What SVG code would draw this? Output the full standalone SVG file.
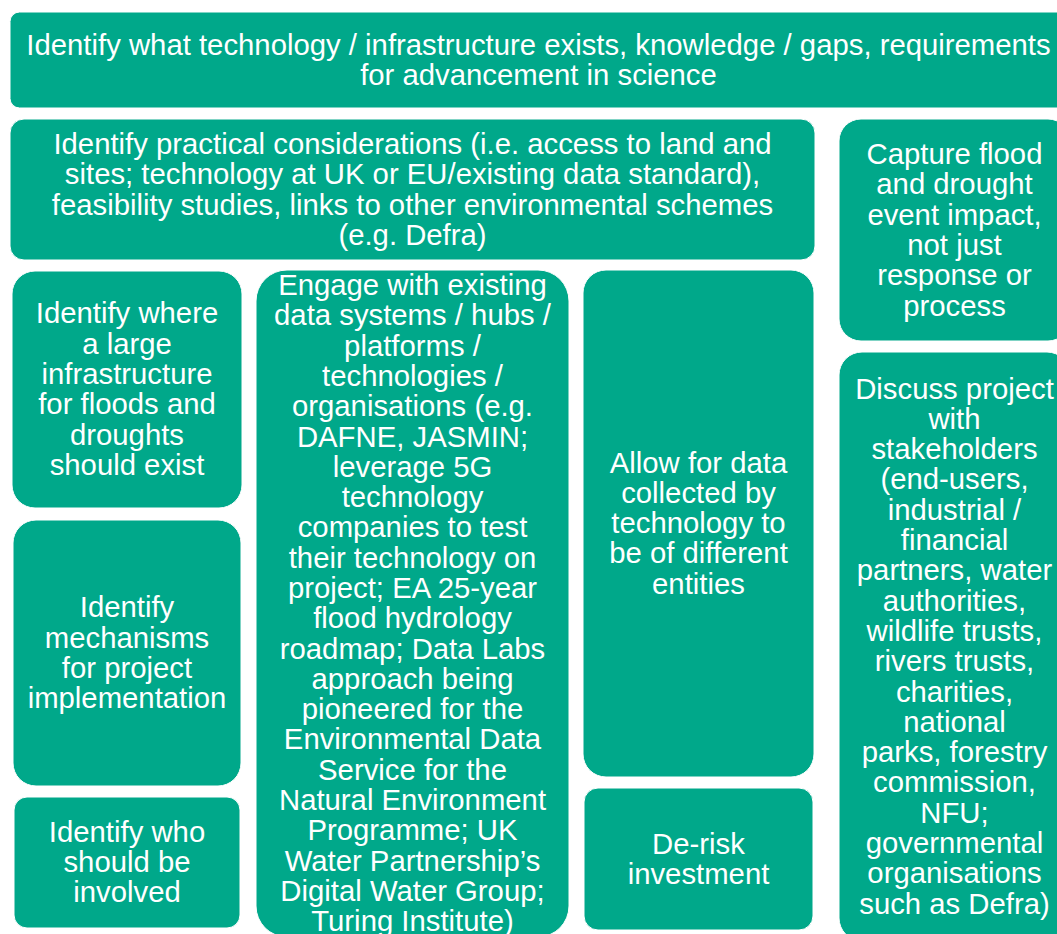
<svg xmlns="http://www.w3.org/2000/svg" width="1057" height="934" viewBox="0 0 1057 934">
  <style>
    .box { fill: #00A88A; stroke: #ffffff; stroke-width: 1; }
    .lbl { fill: #ffffff; font-family: "Liberation Sans", Arial, sans-serif; font-size: 29.3px; text-anchor: middle; }
  </style>
  <rect width="1057" height="934" fill="#ffffff"/>

  <g id="science-needs">
    <rect class="box" x="10" y="12" width="1057" height="96" rx="9.6"/>
    <text class="lbl" y="55"><tspan x="538.5">Identify what technology / infrastructure exists, knowledge / gaps, requirements</tspan><tspan x="538.5" dy="30.3">for advancement in science</tspan></text>
  </g>

  <g id="practical-considerations">
    <rect class="box" x="10" y="119" width="805" height="141" rx="14"/>
    <text class="lbl" y="154"><tspan x="412.5">Identify practical considerations (i.e. access to land and</tspan><tspan x="412.5" dy="30.3">sites; technology at UK or EU/existing data standard),</tspan><tspan x="412.5" dy="30.3">feasibility studies, links to other environmental schemes</tspan><tspan x="412.5" dy="30.3">(e.g. Defra)</tspan></text>
  </g>

  <g id="capture-impact">
    <rect class="box" x="839" y="119" width="231" height="222" rx="22"/>
    <text class="lbl" y="164"><tspan x="954.5">Capture flood</tspan><tspan x="954.5" dy="30.3">and drought</tspan><tspan x="954.5" dy="30.3">event impact,</tspan><tspan x="954.5" dy="30.3">not just</tspan><tspan x="954.5" dy="30.3">response or</tspan><tspan x="954.5" dy="30.3">process</tspan></text>
  </g>

  <g id="identify-where">
    <rect class="box" x="12" y="271" width="230" height="237" rx="23"/>
    <text class="lbl" y="323.4"><tspan x="127">Identify where</tspan><tspan x="127" dy="30.3">a large</tspan><tspan x="127" dy="30.3">infrastructure</tspan><tspan x="127" dy="30.3">for floods and</tspan><tspan x="127" dy="30.3">droughts</tspan><tspan x="127" dy="30.3">should exist</tspan></text>
  </g>

  <g id="identify-mechanisms">
    <rect class="box" x="13" y="520" width="228" height="266" rx="23"/>
    <text class="lbl" y="617.2"><tspan x="127">Identify</tspan><tspan x="127" dy="30.3">mechanisms</tspan><tspan x="127" dy="30.3">for project</tspan><tspan x="127" dy="30.3">implementation</tspan></text>
  </g>

  <g id="identify-who">
    <rect class="box" x="14" y="797" width="226" height="131" rx="13"/>
    <text class="lbl" y="841.8"><tspan x="127">Identify who</tspan><tspan x="127" dy="30.3">should be</tspan><tspan x="127" dy="30.3">involved</tspan></text>
  </g>

  <g id="engage-systems">
    <rect class="box" x="256" y="270" width="313" height="667" rx="31"/>
    <text class="lbl" y="295"><tspan x="412.5">Engage with existing</tspan><tspan x="412.5" dy="30.3">data systems / hubs /</tspan><tspan x="412.5" dy="30.3">platforms /</tspan><tspan x="412.5" dy="30.3">technologies /</tspan><tspan x="412.5" dy="30.3">organisations (e.g.</tspan><tspan x="412.5" dy="30.3">DAFNE, JASMIN;</tspan><tspan x="412.5" dy="30.3">leverage 5G</tspan><tspan x="412.5" dy="30.3">technology</tspan><tspan x="412.5" dy="30.3">companies to test</tspan><tspan x="412.5" dy="30.3">their technology on</tspan><tspan x="412.5" dy="30.3">project; EA 25-year</tspan><tspan x="412.5" dy="30.3">flood hydrology</tspan><tspan x="412.5" dy="30.3">roadmap; Data Labs</tspan><tspan x="412.5" dy="30.3">approach being</tspan><tspan x="412.5" dy="30.3">pioneered for the</tspan><tspan x="412.5" dy="30.3">Environmental Data</tspan><tspan x="412.5" dy="30.3">Service for the</tspan><tspan x="412.5" dy="30.3">Natural Environment</tspan><tspan x="412.5" dy="30.3">Programme; UK</tspan><tspan x="412.5" dy="30.3">Water Partnership’s</tspan><tspan x="412.5" dy="30.3">Digital Water Group;</tspan><tspan x="412.5" dy="30.3">Turing Institute)</tspan></text>
  </g>

  <g id="data-entities">
    <rect class="box" x="583" y="270" width="231" height="507" rx="23"/>
    <text class="lbl" y="472.5"><tspan x="698.5">Allow for data</tspan><tspan x="698.5" dy="30.3">collected by</tspan><tspan x="698.5" dy="30.3">technology to</tspan><tspan x="698.5" dy="30.3">be of different</tspan><tspan x="698.5" dy="30.3">entities</tspan></text>
  </g>

  <g id="de-risk">
    <rect class="box" x="584" y="788" width="229" height="142" rx="14"/>
    <text class="lbl" y="853.5"><tspan x="698.5">De-risk</tspan><tspan x="698.5" dy="30.3">investment</tspan></text>
  </g>

  <g id="stakeholders">
    <rect class="box" x="839" y="352" width="231" height="589" rx="23"/>
    <text class="lbl" y="398.5"><tspan x="954.5">Discuss project</tspan><tspan x="954.5" dy="30.3">with</tspan><tspan x="954.5" dy="30.3">stakeholders</tspan><tspan x="954.5" dy="30.3">(end-users,</tspan><tspan x="954.5" dy="30.3">industrial /</tspan><tspan x="954.5" dy="30.3">financial</tspan><tspan x="954.5" dy="30.3">partners, water</tspan><tspan x="954.5" dy="30.3">authorities,</tspan><tspan x="954.5" dy="30.3">wildlife trusts,</tspan><tspan x="954.5" dy="30.3">rivers trusts,</tspan><tspan x="954.5" dy="30.3">charities,</tspan><tspan x="954.5" dy="30.3">national</tspan><tspan x="954.5" dy="30.3">parks, forestry</tspan><tspan x="954.5" dy="30.3">commission,</tspan><tspan x="954.5" dy="30.3">NFU;</tspan><tspan x="954.5" dy="30.3">governmental</tspan><tspan x="954.5" dy="30.3">organisations</tspan><tspan x="954.5" dy="30.3">such as Defra)</tspan></text>
  </g>

  <g id="connectors"></g>
</svg>
